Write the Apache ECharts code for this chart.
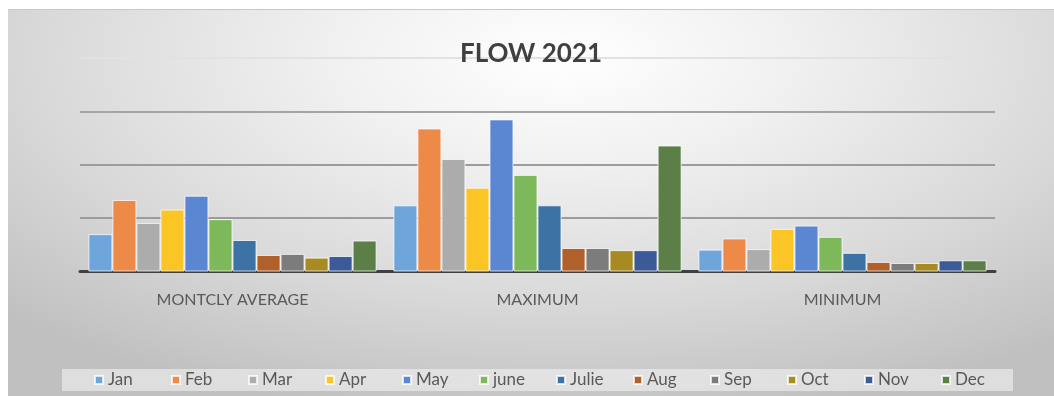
<!DOCTYPE html>
<html>
<head>
<meta charset="utf-8">
<script src="https://cdn.jsdelivr.net/npm/echarts@6/dist/echarts.min.js"></script>
<style>
  html, body { margin: 0; padding: 0; background: #fff; }
  #chart {
    position: absolute; left: 8px; top: 9px; width: 1046px; height: 387px;
    border-top: 1px solid #c8c8c8;
    background: radial-gradient(ellipse 75% 95% at 53% 12%, #ffffff 0%, #f0f0f0 30%, #dadada 65%, #c0c0c0 100%);
  }
</style>
</head>
<body>
<div id="chart"></div>
<script>
// three groups on the x axis
var categories = ['MONTCLY AVERAGE', 'MAXIMUM', 'MINIMUM'];
var months = ['Jan', 'Feb', 'Mar', 'Apr', 'May', 'june', 'Julie', 'Aug', 'Sep', 'Oct', 'Nov', 'Dec'];
var colors = ['#6ea6db', '#ee8a48', '#acacac', '#fcc526', '#5b86d2', '#7db85a',
              '#3c72a4', '#b0602a', '#7c7c7c', '#a88a22', '#3b5a97', '#5b7f47'];

// values per group, one per month (units of one gridline)
var avgValues = [0.70, 1.34, 0.91, 1.16, 1.42, 0.98, 0.59, 0.31, 0.33, 0.26, 0.29, 0.58];
var maxValues = [1.24, 2.68, 2.11, 1.57, 2.85, 1.81, 1.24, 0.44, 0.44, 0.40, 0.40, 2.36];
var minValues = [0.41, 0.62, 0.42, 0.80, 0.86, 0.65, 0.35, 0.18, 0.16, 0.16, 0.21, 0.21];

var myChart = echarts.init(document.getElementById('chart'));

var series = months.map(function (m, i) {
  return {
    name: m,
    type: 'bar',
    barGap: '0%',
    barCategoryGap: '5.5%',
    itemStyle: { color: colors[i], borderColor: 'rgba(255,255,255,0.75)', borderWidth: 1 },
    data: [avgValues[i], maxValues[i], minValues[i]]
  };
});

var option = {
  animation: false,
  title: {
    text: 'FLOW 2021',
    left: 'center',
    top: 26,
    textStyle: { fontFamily: 'Lato', fontWeight: 'bold', fontSize: 26, color: '#404040' }
  },
  legend: {
    data: months,
    left: 54,
    top: 359,
    padding: [2, 4, 2, 32],
    backgroundColor: 'rgba(245,245,245,0.55)',
    itemWidth: 8,
    itemHeight: 8,
    itemGap: 9,
    icon: 'rect',
    textStyle: { fontFamily: 'Lato', fontSize: 17, color: '#595959', width: 54, lineHeight: 18 }
  },
  grid: { left: 72, right: 59, top: 48, bottom: 125.5 },
  xAxis: {
    type: 'category',
    data: categories,
    axisTick: { show: false },
    axisLine: { lineStyle: { color: '#404040', width: 3 } },
    axisLabel: { margin: 20, fontFamily: 'Lato', fontSize: 16, color: '#595959' }
  },
  yAxis: {
    type: 'value',
    min: 0,
    max: 4,
    interval: 1,
    axisLabel: { show: false },
    axisLine: { show: false },
    axisTick: { show: false },
    splitLine: { lineStyle: { color: ['#9c9c9c', '#9c9c9c', '#9c9c9c', '#a4a4a4', '#e2e2e2'], width: 2 } }
  },
  series: series
};

option && myChart.setOption(option);
</script>
</body>
</html>
